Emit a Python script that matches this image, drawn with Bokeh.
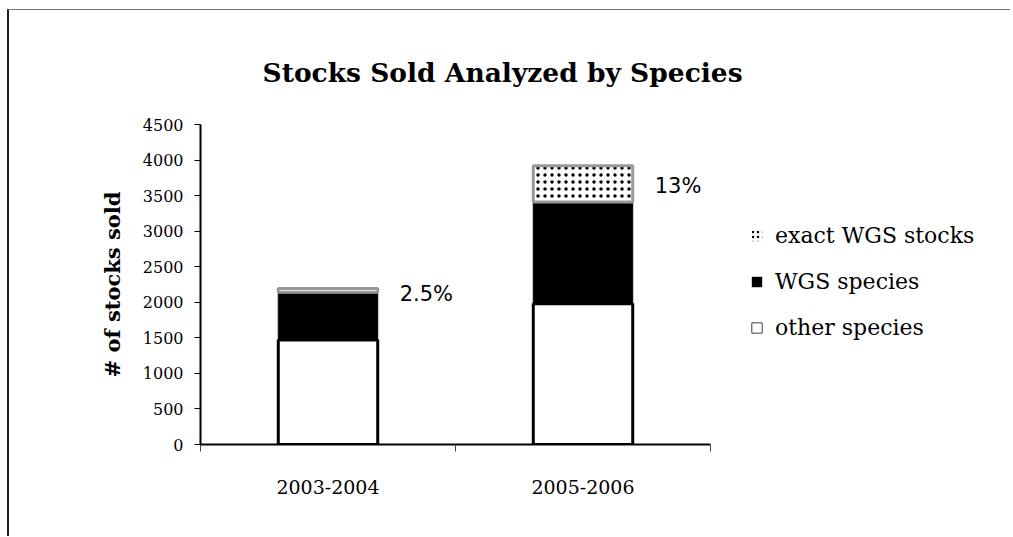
from bokeh.plotting import figure
from bokeh.models import Range1d, FixedTicker, Legend, LegendItem, LabelSet, ColumnDataSource, Title
from bokeh.core.properties import value
from bokeh.embed import file_html
from bokeh.resources import INLINE

# ---- data ----
periods = ["2003-2004", "2005-2006"]
other_species = [1470, 1980]
wgs_species = [670, 1430]
exact_wgs = [55, 510]
pct_labels = ["2.5%", "13%"]
series_names = ["exact WGS stocks", "WGS species", "other species"]
y_ticks = [0, 500, 1000, 1500, 2000, 2500, 3000, 3500, 4000, 4500]

# ---- styling / layout ----
BAR_W = 0.39
SERIF = "DejaVu Serif"
pct_label_dy = [-6, -20]        # pixel nudges of the percentage labels
FIG_W, FIG_H = 1003, 527
BORDER_L, BORDER_T, BORDER_B = 191, 114, 93
AXIS_PX = 510                   # pixel length of the category axis
FRAME_W = FIG_W - BORDER_L      # frame runs to the right edge (legend lives there)

xs = [i + 0.5 for i in range(len(periods))]
wgs_top = [o + w for o, w in zip(other_species, wgs_species)]
total = [t + e for t, e in zip(wgs_top, exact_wgs)]
src = ColumnDataSource(dict(
    x=xs, zero=[0] * len(xs), other=other_species, wgs_top=wgs_top, total=total,
    pct=pct_labels, lx=[x + BAR_W / 2 for x in xs], dy=pct_label_dy,
))

n = len(periods)
p = figure(width=FIG_W, height=FIG_H, output_backend="svg", toolbar_location=None,
           x_range=Range1d(0, n * FRAME_W / AXIS_PX), y_range=Range1d(0, y_ticks[-1]))
p.styles = {"margin-left": "7px", "margin-top": "9px",
            "border-left": "2px solid #222", "border-top": "1px solid #777"}
p.min_border_left = BORDER_L
p.min_border_right = 0
p.min_border_top = BORDER_T
p.min_border_bottom = BORDER_B
p.outline_line_color = None
p.xgrid.visible = False
p.ygrid.visible = False

p.title = Title(text="Stocks Sold Analyzed by Species", align="left", offset=62,
                text_font=SERIF, text_font_size="26.5px", text_font_style="bold",
                text_color="black", standoff=73)

# bars
r_other = p.vbar(x="x", bottom="zero", top="other", width=BAR_W, source=src,
                 fill_color="white", line_color="black", line_width=3)
r_wgs = p.vbar(x="x", bottom="other", top="wgs_top", width=BAR_W, source=src,
               fill_color="black", line_color="black", line_width=1)
r_exact = p.vbar(x="x", bottom="wgs_top", top="total", width=BAR_W, source=src,
                 fill_color="white", line_color="#999999", line_width=3,
                 hatch_pattern="dot", hatch_color="black", hatch_scale=7, hatch_weight=4)

# percent labels
p.add_layout(LabelSet(x="lx", y="total", text="pct", source=src, x_offset=22, y_offset="dy",
                      text_font=value("DejaVu Sans"), text_font_size="21px",
                      text_align="left", text_baseline="middle", text_color="black"))

# axes
ya = p.yaxis[0]
ya.ticker = FixedTicker(ticks=y_ticks)
ya.major_label_text_font = SERIF
ya.major_label_text_font_size = "16px"
ya.major_label_text_color = "black"
ya.major_tick_out = 6
ya.major_tick_in = 0
ya.minor_tick_line_color = None
ya.axis_line_width = 2
ya.axis_line_color = "black"
ya.major_tick_line_color = "black"
ya.major_label_standoff = 11
ya.axis_label = "# of stocks sold"
ya.axis_label_text_font = SERIF
ya.axis_label_text_font_size = "21px"
ya.axis_label_text_font_style = "bold"
ya.axis_label_text_color = "black"
ya.axis_label_standoff = 15

xa = p.xaxis[0]
xa.bounds = (0, n)
xa.ticker = FixedTicker(ticks=xs, minor_ticks=list(range(n + 1)))
xa.major_label_overrides = {x: lab for x, lab in zip(xs, periods)}
xa.major_label_text_font = SERIF
xa.major_label_text_font_size = "19px"
xa.major_label_text_color = "black"
xa.major_tick_line_color = None
xa.major_tick_out = 0
xa.major_tick_in = 0
xa.minor_tick_out = 7
xa.minor_tick_in = 0
xa.minor_tick_line_color = "#444444"
xa.axis_line_width = 2
xa.axis_line_color = "black"
xa.major_label_standoff = 28

# legend: hidden renderers carrying the legend-style visuals
l_exact = p.vbar(x="x", bottom="zero", top="other", width=BAR_W, source=src, visible=False,
                 fill_color="white", line_color=None,
                 hatch_pattern="dot", hatch_color="black", hatch_scale=5, hatch_weight=3)
l_wgs = p.vbar(x="x", bottom="zero", top="other", width=BAR_W, source=src, visible=False,
               fill_color="black", line_color=None)
l_other = p.vbar(x="x", bottom="zero", top="other", width=BAR_W, source=src, visible=False,
                 fill_color="white", line_color="#444444", line_width=1)

legend = Legend(items=[LegendItem(label=series_names[0], renderers=[l_exact]),
                       LegendItem(label=series_names[1], renderers=[l_wgs]),
                       LegendItem(label=series_names[2], renderers=[l_other])],
                location=(550, 104), margin=0, padding=0, spacing=21,
                glyph_width=13, glyph_height=13, label_height=22, label_standoff=12,
                label_text_font=SERIF, label_text_font_size="22px", label_text_color="black",
                border_line_color=None, background_fill_color=None,
                inactive_fill_alpha=0, click_policy="none")
p.add_layout(legend, "center")

open("out.html", "w").write(file_html(p, INLINE))
